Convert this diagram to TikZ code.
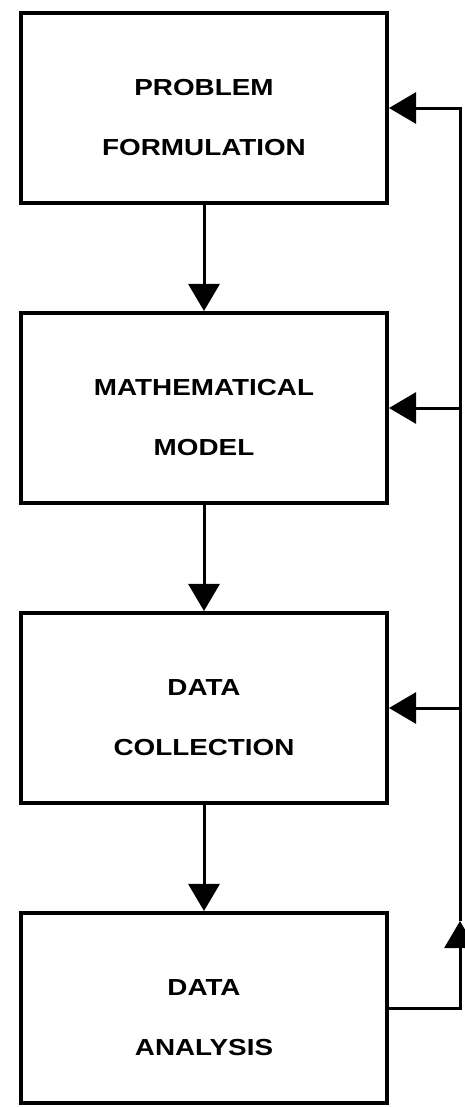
\documentclass[tikz,border=0pt]{standalone}
\usepackage{fontspec}
\usepackage{tikz}
\usetikzlibrary{positioning, arrows.meta, calc}
\newfontfamily\boxfont{Liberation Sans}[FakeStretch=1.2]

\begin{document}
\begin{tikzpicture}[
        box/.style={draw, rectangle, minimum width=9.15cm, minimum height=4.75cm, align=center, line width=0.1cm,
                    font=\boxfont\bfseries\fontsize{16.5}{42.5}\selectfont,
                    text height=2.35cm, text depth=0pt},
        line/.style={line width=0.075cm},
        arr/.style={line, -{Triangle[length=0.68cm, width=0.78cm]}}
    ]
    \useasboundingbox (0,0) rectangle (11.6,-27.675);

    % Stages
    \node[box] (prob) at (5.1,-2.7) {PROBLEM\\FORMULATION};
    \node[box] (model) [below=2.65cm of prob] {MATHEMATICAL\\MODEL};
    \node[box] (coll) [below=2.65cm of model] {DATA\\COLLECTION};
    \node[box] (ana) [below=2.65cm of coll] {DATA\\ANALYSIS};

    % Feedback rail
    \coordinate (rail) at (11.5,0);
    \coordinate (uptip) at ($(ana.north -| rail)+(0,-0.25)$);

    % Arrows
    \draw[arr] (prob) -- (model);
    \draw[arr] (model) -- (coll);
    \draw[arr] (coll) -- (ana);

    % Feedback
    \draw[arr] (ana.east) -- (ana.east -| rail) -- (uptip);
    \draw[arr] (uptip) -- (prob.east -| rail) -- (prob.east);
    \draw[arr] (model.east -| rail) -- (model.east);
    \draw[arr] (coll.east -| rail) -- (coll.east);

\end{tikzpicture}
\end{document}
